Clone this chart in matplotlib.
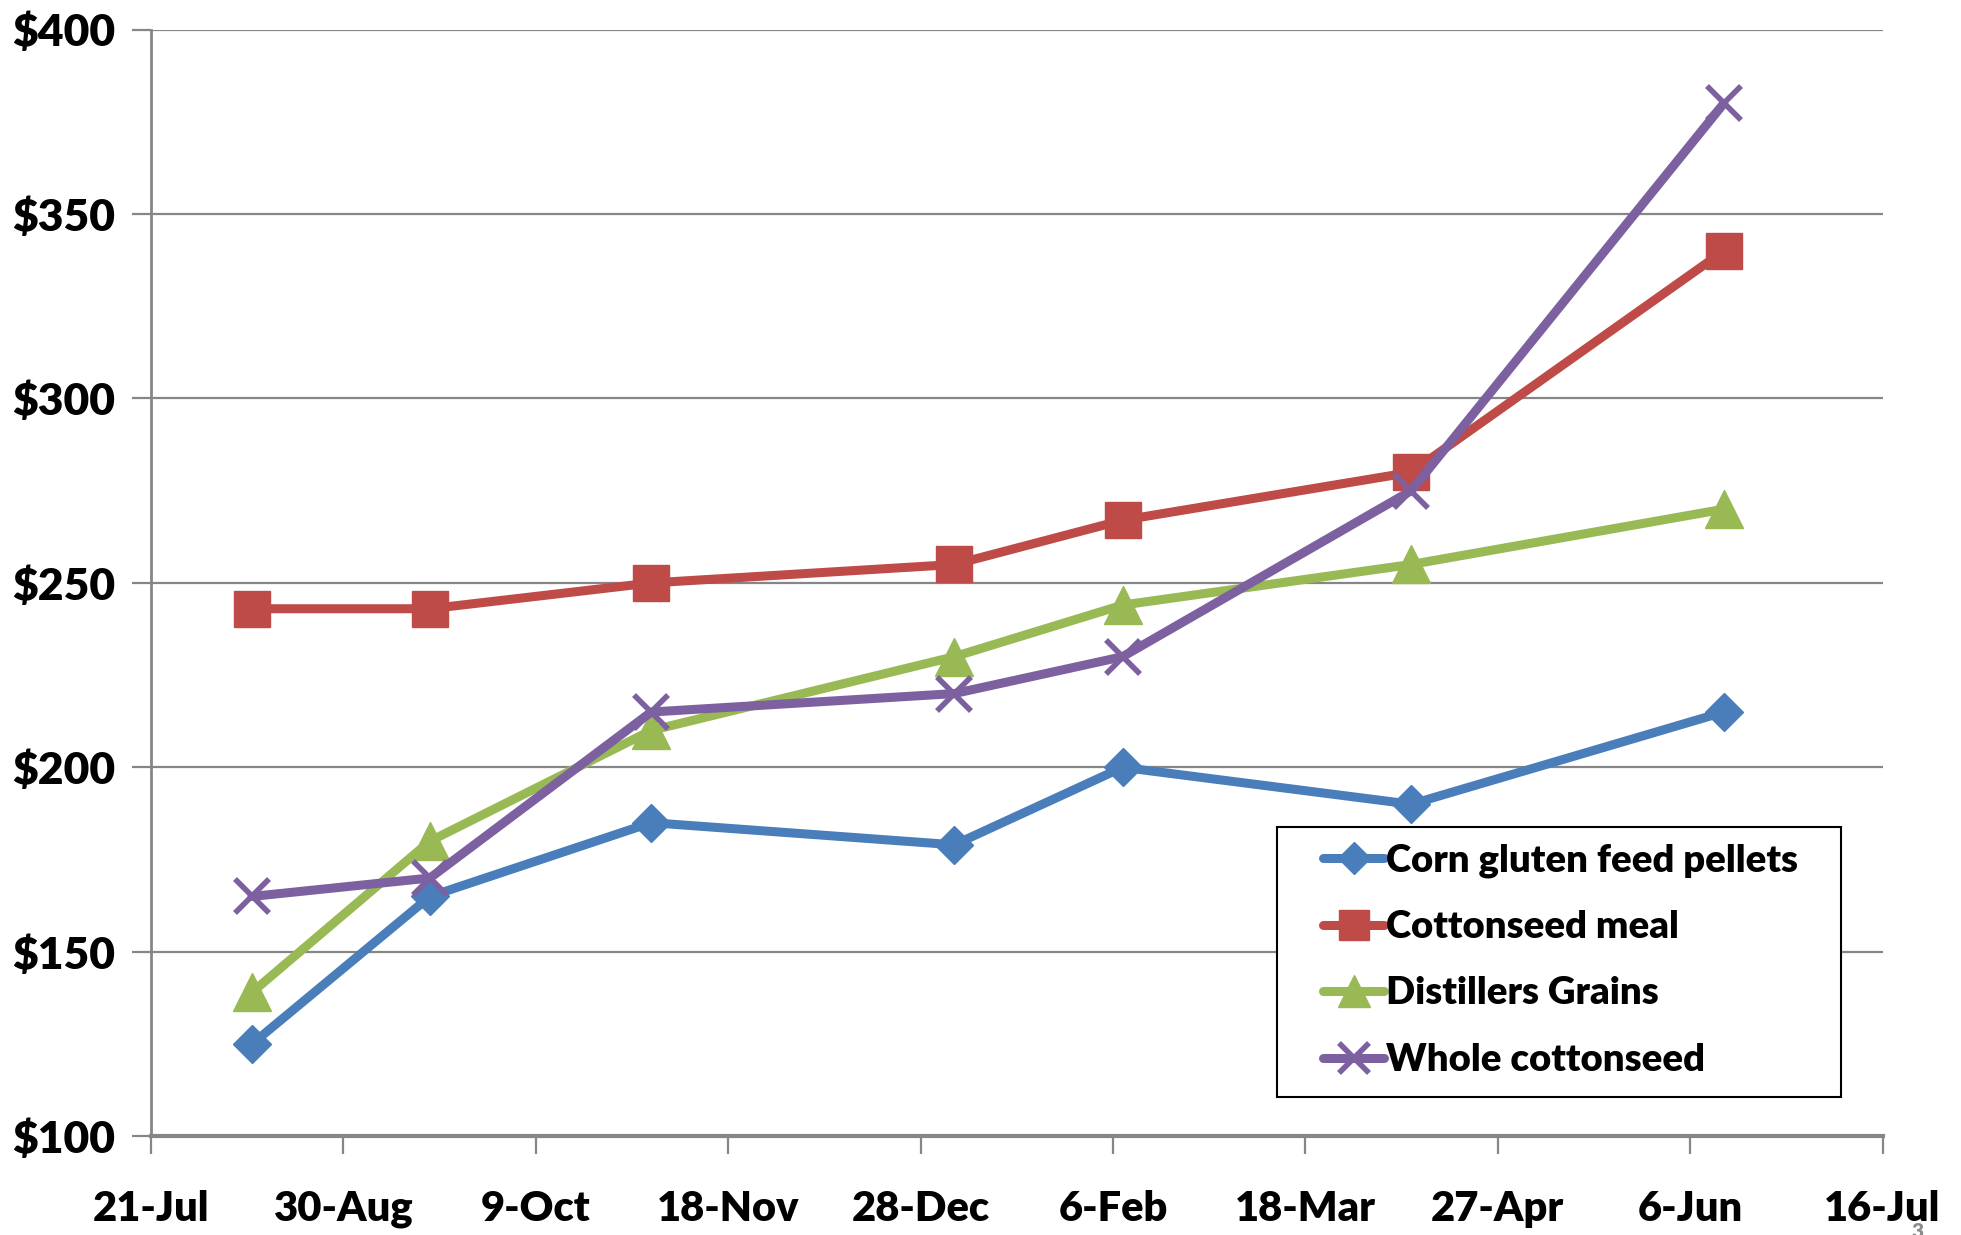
import matplotlib
matplotlib.use("Agg")
import matplotlib.pyplot as plt
import matplotlib.dates as mdates
from matplotlib.patches import Rectangle
from datetime import date, timedelta

plt.rcParams['font.family'] = ['Lato', 'DejaVu Sans']
plt.rcParams['font.weight'] = 'heavy'

# Price observation dates
dates = [date(2010, 8, 11), date(2010, 9, 17), date(2010, 11, 2),
         date(2011, 1, 4), date(2011, 2, 8), date(2011, 4, 9), date(2011, 6, 13)]

corn_gluten = [125, 165, 185, 179, 200, 190, 215]
cottonseed_meal = [243, 243, 250, 255, 267, 280, 340]
distillers = [139, 180, 210, 230, 244, 255, 270]
whole_cottonseed = [165, 170, 215, 220, 230, 275, 380]

series_names = ["Corn gluten feed pellets", "Cottonseed meal",
                "Distillers Grains", "Whole cottonseed"]

# X axis: 40-day steps from 21-Jul
x_start = date(2010, 7, 21)
x_ticks = [x_start + timedelta(days=40 * i) for i in range(10)]
y_ticks = [100, 150, 200, 250, 300, 350, 400]

fig = plt.figure(figsize=(19.61, 12.35), dpi=100)
ax = fig.add_axes([0.077, 0.080, 0.883, 0.896])

styles = [
    dict(color="#4A7EBB", marker="D", ms=19, mec="#4A7EBB"),
    dict(color="#BE4B48", marker="s", ms=26, mec="#BE4B48"),
    dict(color="#98B954", marker="^", ms=27, mec="#98B954"),
    dict(color="#7D60A0", marker="x", ms=25, mew=4, mec="#7D60A0"),
]
for vals, name, st in zip([corn_gluten, cottonseed_meal, distillers, whole_cottonseed],
                          series_names, styles):
    ax.plot(dates, vals, lw=6.5, label=name, solid_joinstyle="round",
            solid_capstyle="round", zorder=3, **st)

ax.set_xlim(x_ticks[0], x_ticks[-1])
ax.set_ylim(100, 400)
ax.set_xticks(x_ticks)
ax.xaxis.set_major_formatter(mdates.DateFormatter("%-d-%b"))
ax.set_yticks(y_ticks)
ax.set_yticklabels([f"${v}" for v in y_ticks])

ax.grid(axis="y", color="#868686", lw=1.6, zorder=0)
for s in ["top", "right"]:
    ax.spines[s].set_visible(False)
ax.spines["left"].set_color("#868686")
ax.spines["left"].set_linewidth(2)
ax.spines["bottom"].set_color("#868686")
ax.spines["bottom"].set_linewidth(3)
ax.tick_params(axis="x", direction="out", length=13, width=1.6, color="#868686",
               labelsize=30, pad=26)
ax.tick_params(axis="y", direction="out", length=14, width=1.6, color="#868686",
               labelsize=32, pad=12)
for lab in ax.get_xticklabels() + ax.get_yticklabels():
    lab.set_fontweight("heavy")

# Legend frame and entries
ax.add_patch(Rectangle((0.651, 0.112), 0.288, 0.218, transform=fig.transFigure,
                       facecolor="white", edgecolor="black", lw=1.5, zorder=5,
                       clip_on=False))
leg = ax.legend(loc="center left", bbox_to_anchor=(0.6747, 0.2227),
                bbox_transform=fig.transFigure, frameon=False,
                prop=dict(size=27.5, weight="heavy"), handlelength=1.6,
                handletextpad=0.05, labelspacing=0.85, borderpad=0,
                borderaxespad=0, markerscale=0.85)
leg.set_zorder(6)

fig.text(0.978, 0.003, "3", color="#8C8C8C", fontsize=15, ha="center", va="center")

fig.savefig("out.png", dpi=100)
